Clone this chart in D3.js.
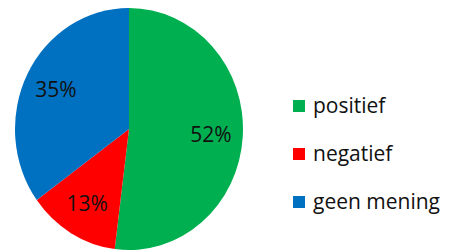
<!DOCTYPE html>
<html>
<head>
<meta charset="utf-8">
<script src="https://cdn.jsdelivr.net/npm/d3@7"></script>
<style>
  body { margin: 0; background: #fff; }
  text { font-family: "Open Sans", "Liberation Sans", sans-serif; }
</style>
</head>
<body>
<svg></svg>
<script>
let categories = ['positief', 'negatief', 'geen mening'];
let values = [52, 13, 35];
let colors = ['#00b050', '#ff0000', '#0070c0'];

let w = 450;
let h = 252;
let cx = 129;
let cy = 129;
let r = 121;
let squash = 114 / 121;

let svg = d3.select('svg')
    .attr('width', w)
    .attr('height', h)

let data = categories.map((c, i) => ({ name: c, value: values[i], color: colors[i] }));

let pie = d3.pie()
    .sort(null)
    .value(d => d.value)

let arc = d3.arc()
    .innerRadius(0)
    .outerRadius(r)

let labelArc = d3.arc()
    .innerRadius(r * 0.72)
    .outerRadius(r * 0.72)

let g = svg.append('g')
    .attr('transform', 'translate(' + cx + ',' + cy + ') scale(' + squash + ',1)')

let slices = pie(data);

g.selectAll('path')
    .data(slices)
    .enter()
    .append('path')
    .attr('d', arc)
    .attr('fill', d => d.data.color)

// percentage labels, kept outside the scaled group so text is not squashed
svg.selectAll('.pct')
    .data(slices)
    .enter()
    .append('text')
    .attr('class', 'pct')
    .attr('x', d => cx + labelArc.centroid(d)[0] * squash)
    .attr('y', d => cy + labelArc.centroid(d)[1])
    .attr('dy', '0.35em')
    .attr('text-anchor', 'middle')
    .attr('font-size', 21)
    .attr('fill', '#111')
    .text(d => d.data.value + '%')

let legend = svg.append('g')
    .attr('transform', 'translate(293, 0)')

let rowY = d3.scalePoint()
    .domain(categories)
    .range([113, 209])

legend.selectAll('rect')
    .data(data)
    .enter()
    .append('rect')
    .attr('x', 0)
    .attr('y', d => rowY(d.name) - 13)
    .attr('width', 12)
    .attr('height', 12)
    .attr('fill', d => d.color)

legend.selectAll('text')
    .data(data)
    .enter()
    .append('text')
    .attr('x', 20)
    .attr('y', d => rowY(d.name))
    .attr('font-size', 21)
    .attr('fill', '#111')
    .text(d => d.name)
</script>
</body>
</html>
